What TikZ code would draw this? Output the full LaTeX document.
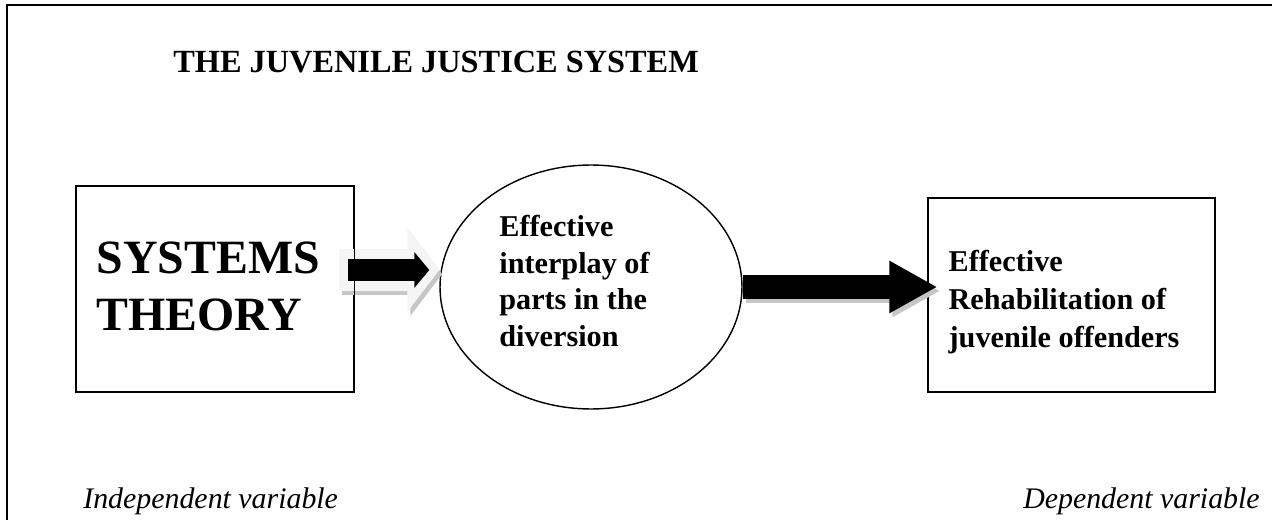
\documentclass[tikz,border=0pt]{standalone}
\usepackage{fontspec}
\setmainfont{Liberation Serif}
\usetikzlibrary{arrows.meta, shapes.geometric}

\tikzset{
  box/.style={draw=black, line width=0.8pt, rectangle, inner sep=0pt},
  oval/.style={draw=black, line width=0.8pt, ellipse, inner sep=0pt},
  bigtext/.style={font=\fontsize{27.2}{32.4}\selectfont\bfseries, align=left, inner sep=0pt},
  midtext/.style={font=\fontsize{17.2}{21}\selectfont\bfseries, align=left, inner sep=0pt},
  vartext/.style={font=\fontsize{17}{20}\selectfont\itshape, inner sep=0pt},
  shade/.style={gray!45, transform canvas={shift={(3,4)}}}
}

\begin{document}
\begin{tikzpicture}[x=0.02cm, y=-0.02cm]
    \useasboundingbox (0,0) rectangle (1272,520);
    \clip (0,0) rectangle (1272,520);

    % outer frame, runs off the page at the right and the bottom
    \draw [line width=1.4pt] (7,540) -- (7,5) -- (1290,5);

    \node [anchor=base west, inner sep=0pt,
           font=\fontsize{18.4}{22}\selectfont\bfseries] (title) at (173,73)
          {THE JUVENILE JUSTICE SYSTEM};

    \node [box, minimum width=5.56cm, minimum height=4.12cm] (sys) at (215,289) {};
    \node [bigtext, anchor=west] (systext) at ([xshift=0.42cm, yshift=0.06cm]sys.west)
          {SYSTEMS\\THEORY};
    \node [oval, minimum width=6.04cm, minimum height=4.88cm] (ell) at (591,287) {};
    \node [midtext, anchor=west] (elltext) at (499,281)
          {Effective\\interplay of\\parts in the\\diversion};
    \node [box, minimum width=5.74cm, minimum height=3.88cm] (rb) at (1071.5,295) {};
    \node [midtext, anchor=west, font=\fontsize{17.2}{21.5}\selectfont\bfseries]
          (rbtext) at ([xshift=0.42cm, yshift=-0.14cm]rb.west)
          {Effective\\Rehabilitation of\\juvenile offenders};

    \coordinate (armid) at ([yshift=0.38cm]sys.east);
    \coordinate (smallend) at (ell.west |- armid);
    \coordinate (bigend) at ([xshift=0.2cm]rb.west |- ell.east);

    % light arrow with its shadow, black arrow on top
    \draw [shade, line width=0.86cm, -{Triangle[length=0.64cm, width=1.64cm]}]
        ([xshift=-0.32cm]armid) -- (smallend);
    \draw [gray!8, line width=0.86cm, -{Triangle[length=0.64cm, width=1.64cm]}]
        ([xshift=-0.32cm]armid) -- (smallend);
    \draw [black, line width=0.44cm, -{Triangle[length=0.3cm, width=0.7cm]}]
        ([xshift=-0.14cm]armid) -- ([xshift=-0.2cm]smallend);
    \draw [line width=0.8pt] (sys.north east) -- (sys.south east);

    % big arrow to the outcome
    \draw [shade, line width=0.5cm, -{Triangle[length=0.96cm, width=0.98cm]}]
        (ell.east) -- (bigend);
    \draw [black, line width=0.5cm, -{Triangle[length=0.96cm, width=0.98cm]}]
        (ell.east) -- (bigend);

    \node [vartext, anchor=base west] (indep) at (83,508) {Independent variable};
    \node [vartext, anchor=base east] (dep) at (1260,508) {Dependent variable};
\end{tikzpicture}
\end{document}
